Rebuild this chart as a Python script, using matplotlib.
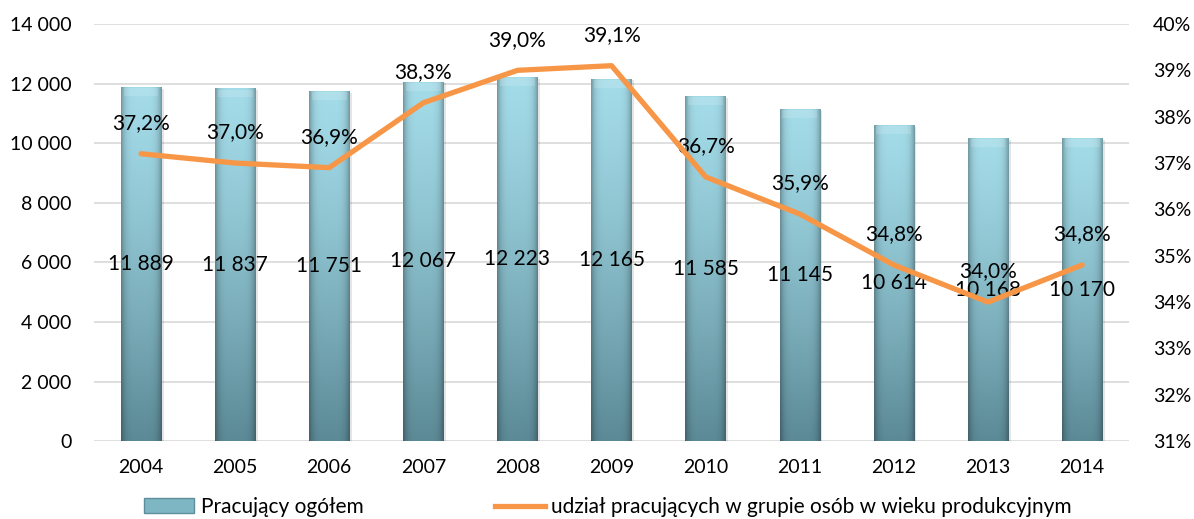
import matplotlib.pyplot as plt
import numpy as np
from matplotlib.lines import Line2D
from matplotlib.patches import Rectangle

plt.rcParams['font.family'] = ['Lato', 'DejaVu Sans']

years = ['2004', '2005', '2006', '2007', '2008', '2009', '2010', '2011', '2012', '2013', '2014']
employed = [11889, 11837, 11751, 12067, 12223, 12165, 11585, 11145, 10614, 10168, 10170]
share = [37.2, 37.0, 36.9, 38.3, 39.0, 39.1, 36.7, 35.9, 34.8, 34.0, 34.8]
share_labels = ['37,2%', '37,0%', '36,9%', '38,3%', '39,0%', '39,1%', '36,7%', '35,9%', '34,8%', '34,0%', '34,8%']
bar_labels = ['11 889', '11 837', '11 751', '12 067', '12 223', '12 165', '11 585', '11 145', '10 614', '10 168', '10 170']

fig = plt.figure(figsize=(11.94, 5.19), dpi=100)
ax = fig.add_axes([0.0787, 0.150, 0.867, 0.8038])
ax2 = ax.twinx()

x = np.arange(len(years))
w = 0.43

# gradient image for the bars: light cyan at top, dark teal at bottom, darker edges
ny, nx = 200, 60
tv = np.linspace(0, 1, ny)[:, None]
hx = np.linspace(-1, 1, nx)[None, :]
top = np.array([0.64, 0.86, 0.91])
bot = np.array([0.36, 0.54, 0.59])
col = top[None, None, :] * (1 - tv[..., None] ** 1.3) + bot[None, None, :] * tv[..., None] ** 1.3
edge = 1 - 0.3 * np.abs(hx) ** 5
img = col * edge[..., None]
img = np.clip(img, 0, 1)

ax.set_xlim(-0.5, len(years) - 0.5)
ax.set_ylim(0, 14000)
for i, v in enumerate(employed):
    # soft shadow
    ax.add_patch(Rectangle((x[i] - w / 2 + 0.025, -60), w, v, color='#000000', alpha=0.10, lw=0, zorder=1))
    r = Rectangle((x[i] - w / 2, 0), w, v, facecolor='none', edgecolor='none', zorder=2)
    ax.add_patch(r)
    im = ax.imshow(img, extent=(x[i] - w / 2, x[i] + w / 2, 0, v), aspect='auto', zorder=2, origin='upper')
    im.set_clip_path(r)
    # bevelled top highlight
    ax.add_patch(Rectangle((x[i] - w / 2 + 0.03, v - 300), w - 0.06, 260, color='white', alpha=0.15, lw=0, zorder=3))
    ax.text(x[i], v / 2, bar_labels[i], ha='center', va='center', fontsize=15, color='black', zorder=5)

ax.set_aspect('auto')
ax.set_yticks(np.arange(0, 14001, 2000))
ax.set_yticklabels(['0', '2 000', '4 000', '6 000', '8 000', '10 000', '12 000', '14 000'])
ax.set_xticks(x)
ax.set_xticklabels(years)
ax.grid(axis='y', color='#d9d9d9', lw=1.2, zorder=0)
ax.set_axisbelow(True)
for s in ax.spines.values():
    s.set_visible(False)
for s in ax2.spines.values():
    s.set_visible(False)
ax.tick_params(axis='x', length=0, labelsize=14, pad=13)
ax.tick_params(axis='y', length=0, labelsize=14, pad=16)

ax2.plot(x, share, color='#f79646', lw=3.8, solid_capstyle='round', zorder=4)
ax2.set_ylim(31, 40)
ax2.set_yticks(np.arange(31, 41, 1))
ax2.set_yticklabels([f'{t}%' for t in range(31, 41)])
ax2.tick_params(axis='y', length=0, labelsize=14, pad=17)
for i, v in enumerate(share):
    ax2.annotate(share_labels[i], (x[i], v), xytext=(0, 22), textcoords='offset points',
                 ha='center', va='center', fontsize=15)

handles = [Rectangle((0, 0), 1, 1, facecolor='#7fb6c4', edgecolor='#5e8e9a'),
           Line2D([0], [0], color='#f79646', lw=3.8)]
fig.legend(handles, ['Pracujący ogółem', 'udział pracujących w grupie osób w wieku produkcyjnym'],
           loc='center left', bbox_to_anchor=(0.121, 0.023), ncol=2, frameon=False, fontsize=15,
           columnspacing=6.3, handlelength=2.4, handletextpad=0.3, borderpad=0, borderaxespad=0)

fig.savefig('out.png', dpi=100)
